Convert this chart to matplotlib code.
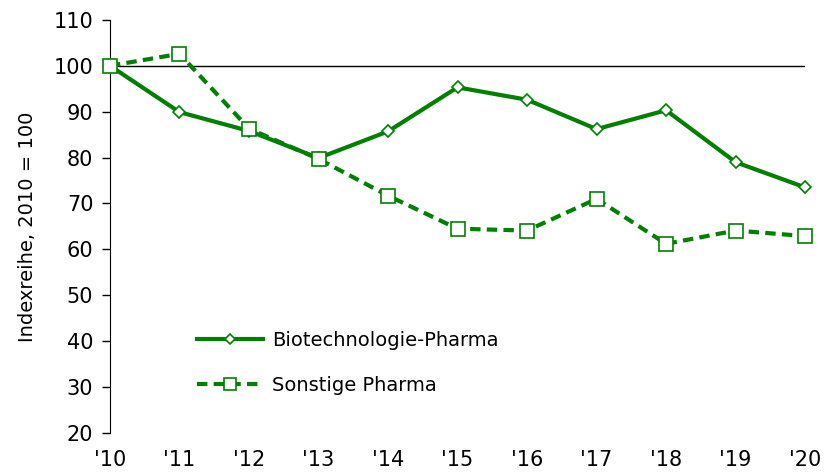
import matplotlib
matplotlib.use("Agg")
import matplotlib.pyplot as plt

jahre = ["'10", "'11", "'12", "'13", "'14", "'15", "'16", "'17", "'18", "'19", "'20"]
biotech = [100, 89.9, 85.8, 79.9, 85.7, 95.3, 92.6, 86.2, 90.3, 79.0, 73.5]
sonstige = [100, 102.6, 86.3, 79.7, 71.7, 64.5, 64.1, 71.0, 61.2, 64.1, 62.9]

gruen = "#008000"
plt.rcParams["font.family"] = "DejaVu Sans"

fig = plt.figure(figsize=(8.3, 4.73), dpi=100)
ax = fig.add_axes([0.1325, 0.0846, 0.8375, 0.8734])
x = list(range(len(jahre)))

ax.axhline(100, color="black", lw=1, zorder=1)
ax.plot(x, biotech, color=gruen, lw=3, marker="D", ms=6, mfc="white",
        mec=gruen, mew=1.2, label="Biotechnologie-Pharma", zorder=3, clip_on=False)
ax.plot(x, sonstige, color=gruen, lw=3, ls=(0, (2.5, 1.5)), marker="s", ms=10,
        mfc="white", mec=gruen, mew=1.2, label="Sonstige Pharma", zorder=3, clip_on=False)

ax.set_xlim(0, 10)
ax.set_ylim(20, 110)
ax.set_yticks(range(20, 111, 10))
ax.set_xticks(x)
ax.set_xticklabels(jahre)
ax.tick_params(axis="x", length=0, labelsize=15, pad=12)
ax.tick_params(axis="y", direction="out", length=6, labelsize=15, width=1, pad=6)
for s in ["top", "right", "bottom"]:
    ax.spines[s].set_visible(False)
ax.set_ylabel("Indexreihe, 2010 = 100", fontsize=14, labelpad=12)

ax.legend(loc="lower left", bbox_to_anchor=(0.1, 0.05), frameon=False,
          fontsize=14, handlelength=3.4, labelspacing=1.35, handletextpad=0.45,
          markerscale=0.9)

fig.savefig("out.png", dpi=100)
